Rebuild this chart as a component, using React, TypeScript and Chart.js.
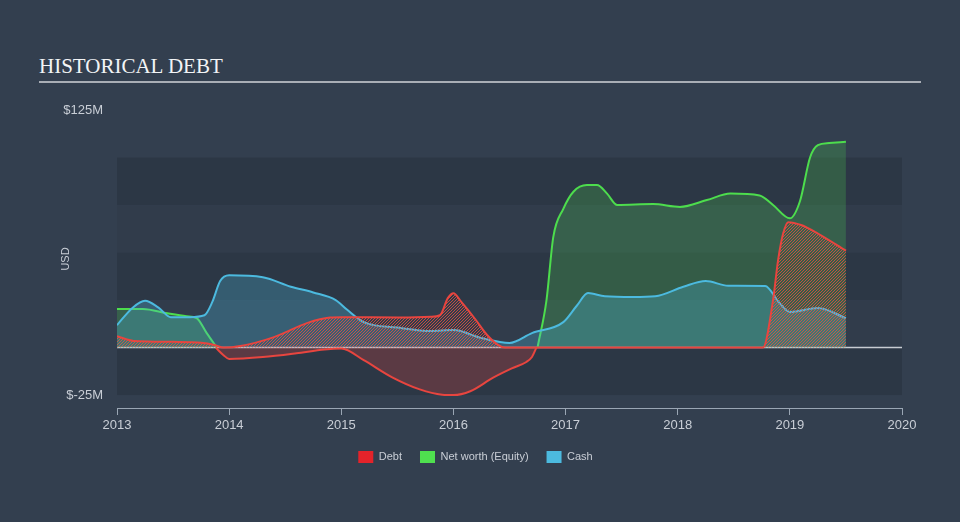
import React, { useEffect, useRef } from "react";
import { Chart, registerables } from "chart.js";

Chart.register(...registerables);

// ---- data ----
const xTickYears = [2013, 2014, 2015, 2016, 2017, 2018, 2019, 2020];
const yTickValues = [-25, 125];

const debtYears = [2013.0, 2013.15, 2013.5, 2013.75, 2013.87, 2013.95, 2014.1, 2014.4, 2014.7, 2014.9, 2015.0, 2015.5, 2015.8, 2015.88, 2015.95, 2016.0, 2016.07, 2016.2, 2016.3, 2016.4, 2016.46, 2017.5, 2018.76, 2018.85, 2018.895, 2018.94, 2018.985, 2019.1, 2019.25, 2019.5];
const debtValues = [6, 3.5, 3, 2.5, 1.3, 0, 0.8, 5.5, 13, 15.8, 16, 15.8, 16.2, 17, 26, 28.6, 24, 14.5, 6.6, 1.3, 0, 0, 0, 25, 46, 60, 66, 64.5, 60, 51];

const negYears = [2013.88, 2013.95, 2014.0, 2014.3, 2014.6, 2014.85, 2015.0, 2015.2, 2015.45, 2015.7, 2015.9, 2016.0, 2016.15, 2016.35, 2016.52, 2016.65, 2016.7, 2016.74];
const negValues = [0, -4, -6, -5, -3, -1, -0.5, -6.6, -15.5, -22, -24.8, -25, -23, -16, -11, -7.6, -5, 0];

const equityYears = [2013.0, 2013.23, 2013.45, 2013.62, 2013.71, 2013.8, 2013.89, 2015.3, 2016.75, 2016.83, 2016.89, 2016.98, 2017.07, 2017.19, 2017.28, 2017.37, 2017.46, 2017.78, 2018.02, 2018.26, 2018.47, 2018.73, 2018.85, 2019.0, 2019.09, 2019.18, 2019.25, 2019.35, 2019.5];
const equityValues: (number | null)[] = [20.3, 20.3, 18, 16.5, 15.5, 7.6, 0, null, 0, 25, 58, 73, 82, 85.5, 85.5, 81, 75, 75.5, 74, 77.6, 81, 80, 75, 68, 77, 100, 106.5, 107.6, 108.3];

const cashYears = [2013.0, 2013.14, 2013.25, 2013.37, 2013.48, 2013.65, 2013.78, 2013.85, 2013.92, 2014.0, 2014.3, 2014.55, 2014.75, 2014.95, 2015.05, 2015.2, 2015.5, 2015.8, 2016.0, 2016.25, 2016.5, 2016.7, 2016.98, 2017.1, 2017.2, 2017.35, 2017.6, 2017.8, 2018.05, 2018.25, 2018.45, 2018.78, 2018.9, 2019.0, 2019.25, 2019.5];
const cashValues = [11.8, 21, 24.6, 21, 16, 16, 17, 24, 35, 38, 37, 32, 29, 25, 20, 13.4, 10.5, 8.7, 9.2, 5, 2.4, 7.6, 13.4, 22, 28.7, 27, 26.6, 27, 32, 35, 32.5, 32.4, 24, 18.7, 20.8, 15.5];

const legendLabels = ["Debt", "Net worth (Equity)", "Cash"];
const legendColors = ["#e4232a", "#4fe04f", "#4cbadf"];

const toPoints = (xs: number[], ys: (number | null)[]) => xs.map((x, i) => ({ x, y: ys[i] }));

function makeHatch(): CanvasPattern | string {
  const c = document.createElement("canvas");
  c.width = 3;
  c.height = 3;
  const g = c.getContext("2d");
  if (!g) return "rgba(232,70,60,0.4)";
  g.strokeStyle = "rgba(234,80,64,0.8)";
  g.lineWidth = 1;
  g.beginPath();
  g.moveTo(0, 3);
  g.lineTo(3, 0);
  g.moveTo(-1, 1);
  g.lineTo(1, -1);
  g.moveTo(2, 4);
  g.lineTo(4, 2);
  g.stroke();
  return g.createPattern(c, "repeat") || "rgba(232,70,60,0.4)";
}

const bandsPlugin = {
  id: "bands",
  beforeDatasetsDraw(chart: any) {
    const { ctx, chartArea, scales } = chart;
    const y = scales.y;
    const bands: [number, number, string][] = [
      [75, 100, "rgba(0,0,0,0.12)"],
      [50, 75, "rgba(0,0,0,0.04)"],
      [25, 50, "rgba(0,0,0,0.12)"],
      [0, 25, "rgba(0,0,0,0.04)"],
      [-25, 0, "rgba(0,0,0,0.12)"],
    ];
    ctx.save();
    for (const [lo, hi, col] of bands) {
      const t = y.getPixelForValue(hi);
      const b = y.getPixelForValue(lo);
      ctx.fillStyle = col;
      ctx.fillRect(chartArea.left, t, chartArea.right - chartArea.left, b - t);
    }
    const z = y.getPixelForValue(0);
    ctx.strokeStyle = "#c8ccd2";
    ctx.lineWidth = 1.5;
    ctx.beginPath();
    ctx.moveTo(chartArea.left, z);
    ctx.lineTo(chartArea.right, z);
    ctx.stroke();
    ctx.restore();
  },
};

export default function App() {
  const ref = useRef<HTMLCanvasElement>(null);

  useEffect(() => {
    if (!ref.current) return;
    const hatch = makeHatch();
    const axisColor = "#9aa6b4";
    const textColor = "#c9ced6";
    const font = { family: "Arial, 'Liberation Sans', sans-serif", size: 13 };
    const chart = new Chart(ref.current, {
      type: "line",
      data: {
        datasets: [
          {
            label: "Debt",
            data: toPoints(debtYears, debtValues),
            borderColor: "#e8453f",
            backgroundColor: hatch as any,
            borderWidth: 2,
            fill: "origin",
            pointRadius: 0,
            cubicInterpolationMode: "monotone",
          },
          {
            label: "DebtNeg",
            data: toPoints(negYears, negValues),
            borderColor: "#e8453f",
            backgroundColor: "rgba(232,69,63,0.25)",
            borderWidth: 2,
            fill: "origin",
            pointRadius: 0,
            cubicInterpolationMode: "monotone",
          },
          {
            label: "Cash",
            data: toPoints(cashYears, cashValues),
            borderColor: "#4cbadf",
            backgroundColor: "rgba(76,186,223,0.28)",
            borderWidth: 2,
            fill: "origin",
            pointRadius: 0,
            cubicInterpolationMode: "monotone",
          },
          {
            label: "Net worth (Equity)",
            data: toPoints(equityYears, equityValues),
            borderColor: "#4ddd4d",
            backgroundColor: "rgba(77,221,77,0.22)",
            borderWidth: 2,
            fill: "origin",
            pointRadius: 0,
            spanGaps: false,
            cubicInterpolationMode: "monotone",
          },
        ],
      },
      options: {
        animation: false,
        responsive: false,
        maintainAspectRatio: false,
        layout: { padding: { top: 110, right: 9, bottom: 49, left: 0 } },
        scales: {
          x: {
            type: "linear",
            min: 2013,
            max: 2020,
            afterBuildTicks: (s: any) => {
              s.ticks = xTickYears.map((v) => ({ value: v }));
            },
            ticks: {
              color: textColor,
              font,
              padding: 3,
              maxRotation: 0,
              callback: (v: any) => String(v),
            },
            grid: {
              display: true,
              drawOnChartArea: false,
              drawTicks: true,
              tickLength: 7,
              color: axisColor,
            },
            border: { display: true, color: axisColor, width: 1 },
            afterFit: (s: any) => {
              s.height = 25;
            },
          },
          y: {
            type: "linear",
            min: -31.8,
            max: 125,
            afterBuildTicks: (s: any) => {
              s.ticks = yTickValues.map((v) => ({ value: v }));
            },
            ticks: {
              color: textColor,
              font,
              padding: 6,
              callback: (v: any) => `$${v}M`,
            },
            grid: { display: false },
            border: { display: false },
            title: {
              display: true,
              text: "USD",
              color: textColor,
              font: { family: "Arial, 'Liberation Sans', sans-serif", size: 11 },
              padding: { top: 59, bottom: 0 },
            },
            afterFit: (s: any) => {
              s.width = 117;
            },
          },
          yRight: {
            type: "linear",
            position: "right",
            min: 0,
            max: 1,
            display: true,
            ticks: { display: false },
            grid: { display: false, drawTicks: false },
            border: { display: false },
            afterFit: (s: any) => {
              s.width = 49;
            },
          },
        },
        plugins: {
          tooltip: { enabled: false },
          legend: {
            display: true,
            position: "bottom",
            labels: {
              boxWidth: 15,
              boxHeight: 12,
              padding: 18,
              color: textColor,
              font: { family: "Arial, 'Liberation Sans', sans-serif", size: 11 },
              generateLabels: () =>
                legendLabels.map((t, i) => ({
                  text: t,
                  fillStyle: legendColors[i],
                  strokeStyle: legendColors[i],
                  lineWidth: 0,
                  hidden: false,
                  datasetIndex: i,
                  fontColor: textColor,
                })) as any,
            },
          },
        },
      } as any,
      plugins: [bandsPlugin],
    });
    return () => chart.destroy();
  }, []);

  return (
    <div
      style={{
        position: "fixed",
        left: 0,
        top: 0,
        width: 960,
        height: 522,
        background: "#333f4f",
        overflow: "hidden",
      }}
    >
      <div
        style={{
          position: "absolute",
          left: 39,
          top: 56,
          fontFamily: "'Liberation Serif', 'Times New Roman', serif",
          fontSize: 21,
          lineHeight: "21px",
          color: "#f2f4f6",
          whiteSpace: "nowrap",
        }}
      >
        HISTORICAL DEBT
      </div>
      <div
        style={{
          position: "absolute",
          left: 39,
          top: 81,
          width: 882,
          height: 2,
          background: "#a9aeb6",
        }}
      />
      <canvas
        ref={ref}
        width={960}
        height={522}
        style={{ position: "absolute", left: 0, top: 0, width: 960, height: 522 }}
      />
    </div>
  );
}
